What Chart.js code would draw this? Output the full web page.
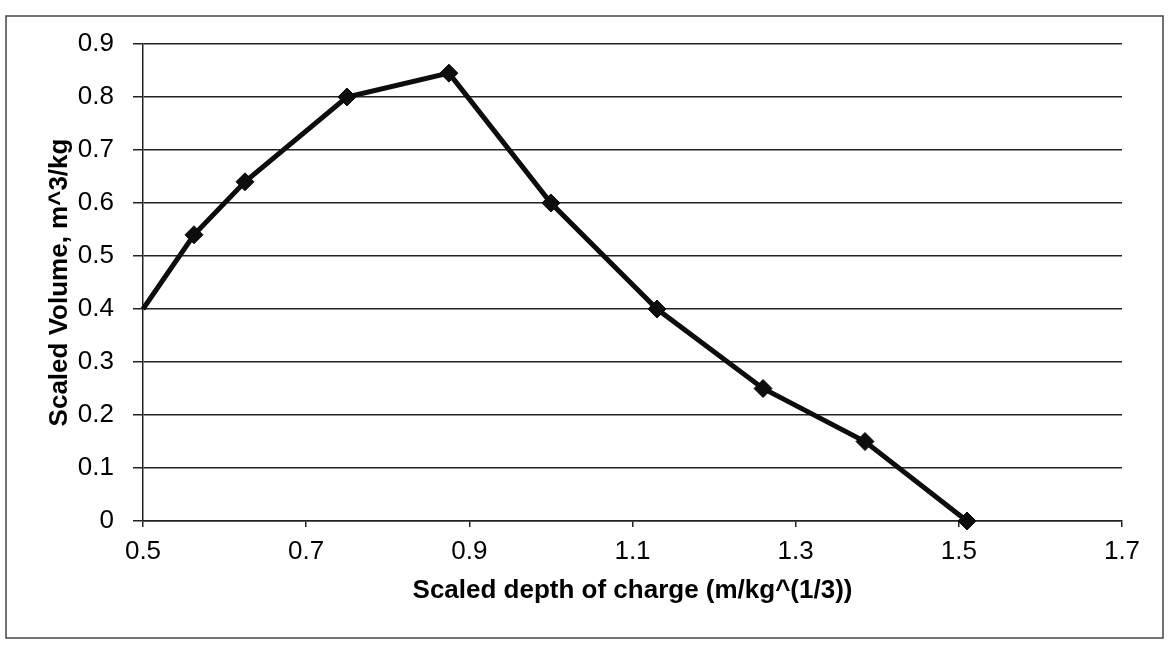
<!DOCTYPE html>
<html>
<head>
<meta charset="utf-8">
<script src="https://cdn.jsdelivr.net/npm/chart.js@4/dist/chart.umd.min.js"></script>
<style>
	html, body { margin: 0; padding: 0; background: #fff; }
	#wrap { position: relative; width: 1169px; height: 650px; }
</style>
</head>
<body>
<div id="wrap"><canvas id="depthChart" width="1169" height="650"></canvas></div>
<script>
(function () {
	'use strict';

	// values
	var depthX = [0.5, 0.5625, 0.625, 0.75, 0.875, 1.0, 1.13, 1.26, 1.385, 1.51];
	var volumeY = [0.40, 0.54, 0.64, 0.80, 0.845, 0.60, 0.40, 0.25, 0.15, 0.0];
	var xTicks = [0.5, 0.7, 0.9, 1.1, 1.3, 1.5, 1.7];
	var yTicks = [0, 0.1, 0.2, 0.3, 0.4, 0.5, 0.6, 0.7, 0.8, 0.9];

	var INK = '#0d0d0d';
	var GRID = '#222';

	Chart.defaults.font.family = "'Liberation Sans', Arial, sans-serif";
	Chart.defaults.color = '#000';

	var points = depthX.map(function (x, i) {
		return { x: x, y: volumeY[i] };
	});

	function fixTicks(list) {
		return function (scale) {
			scale.ticks = list.map(function (v) { return { value: v }; });
		};
	}

	var frame = {
		id: 'frame',
		beforeDraw: function (chart) {
			var ctx = chart.ctx;
			ctx.save();
			ctx.fillStyle = '#fff';
			ctx.fillRect(0, 0, chart.width, chart.height);
			ctx.strokeStyle = '#444';
			ctx.lineWidth = 1.5;
			ctx.strokeRect(6, 16, 1157, 622);
			ctx.restore();
		}
	};

	new Chart(document.getElementById('depthChart'), {
		type: 'scatter',
		data: {
			datasets: [{
				label: 'Scaled volume',
				data: points,
				showLine: true,
				tension: 0,
				borderColor: INK,
				borderWidth: 5,
				backgroundColor: INK,
				pointStyle: 'rectRot',
				pointRadius: function (ctx) { return ctx.dataIndex === 0 ? 0 : 9; },
				pointBorderColor: INK,
				pointBackgroundColor: INK,
				pointBorderWidth: 1,
				clip: false
			}]
		},
		options: {
			responsive: false,
			animation: false,
			layout: { padding: { left: 0, top: 44, right: 47, bottom: 0 } },
			plugins: {
				legend: { display: false },
				tooltip: { enabled: false }
			},
			scales: {
				x: {
					type: 'linear',
					min: 0.5,
					max: 1.7,
					afterBuildTicks: fixTicks(xTicks),
					afterFit: function (scale) { scale.height = 129; },
					grid: { drawOnChartArea: false, drawTicks: true, tickLength: 6, color: GRID, lineWidth: 1.5 },
					border: { color: GRID, width: 1.5 },
					ticks: {
						padding: 9,
						maxRotation: 0,
						font: { size: 26 },
						color: '#000',
						callback: function (v) { return Number(v).toFixed(1); }
					},
					title: {
						display: true,
						text: 'Scaled depth of charge (m/kg^(1/3))',
						font: { size: 26, weight: 'bold' },
						color: '#000',
						padding: { top: 0, bottom: 44 }
					}
				},
				y: {
					type: 'linear',
					min: 0,
					max: 0.9,
					afterBuildTicks: fixTicks(yTicks),
					afterFit: function (scale) { scale.width = 143; },
					grid: { color: GRID, lineWidth: 1.5, tickLength: 10 },
					border: { color: GRID, width: 1.5 },
					ticks: {
						padding: 19,
						font: { size: 26 },
						color: '#000',
						callback: function (v) { return v === 0 ? '0' : Number(v).toFixed(1); }
					},
					title: {
						display: true,
						text: 'Scaled Volume, m^3/kg',
						font: { size: 26, weight: 'bold' },
						color: '#000',
						padding: { top: 44, bottom: 0 }
					}
				}
			}
		},
		plugins: [frame]
	});
})();
</script>
</body>
</html>
